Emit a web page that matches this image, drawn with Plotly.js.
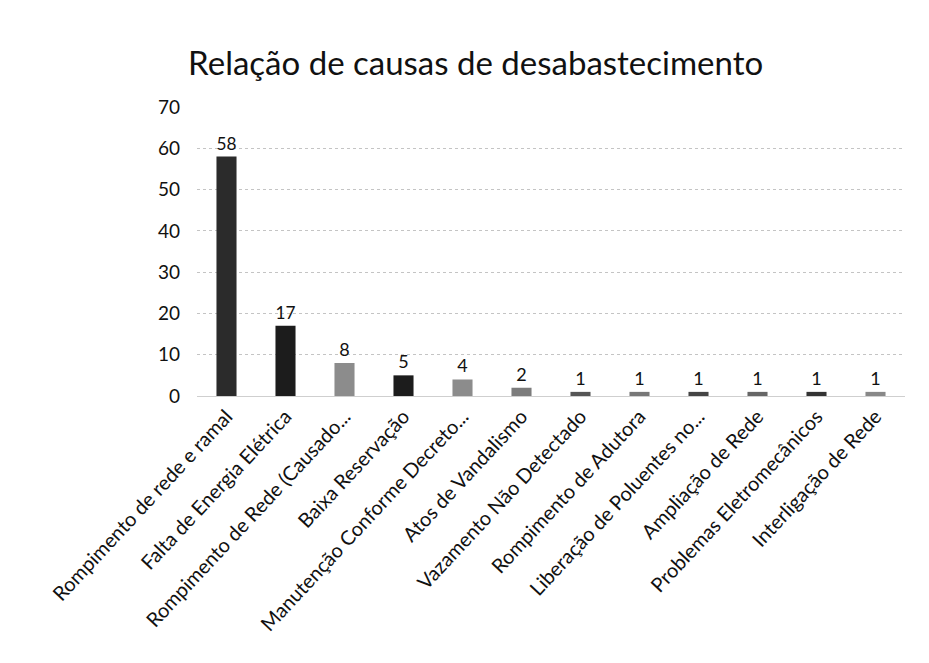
<!DOCTYPE html>
<html>
<head>
<meta charset="utf-8">
<script src="https://cdn.plot.ly/plotly-3.0.1.min.js"></script>
<style>html,body{margin:0;padding:0;background:#fff;}#chart{width:929px;height:663px;}</style>
</head>
<body>
<div id="chart"></div>
<script>
const categories = [
  "Rompimento de rede e ramal",
  "Falta de Energia Elétrica",
  "Rompimento de Rede (Causado...",
  "Baixa Reservação",
  "Manutenção Conforme Decreto...",
  "Atos de Vandalismo",
  "Vazamento Não Detectado",
  "Rompimento de Adutora",
  "Liberação de Poluentes no...",
  "Ampliação de Rede",
  "Problemas Eletromecânicos",
  "Interligação de Rede"
];
const values = [58, 17, 8, 5, 4, 2, 1, 1, 1, 1, 1, 1];
const barColors = ["#2b2b2b", "#1c1c1c", "#8c8c8c", "#1c1c1c", "#8c8c8c", "#7c7c7c",
                   "#555555", "#777777", "#444444", "#666666", "#333333", "#888888"];

const trace = {
  type: "bar",
  x: categories,
  y: values,
  text: values.map(String),
  textposition: "outside",
  cliponaxis: false,
  textfont: {family: "Lato, 'Open Sans', sans-serif", size: 18, color: "#111"},
  marker: {color: barColors, line: {width: 0}},
  hoverinfo: "none"
};

const layout = {
  width: 929, height: 663,
  margin: {l: 197, r: 24, t: 107, b: 267},
  paper_bgcolor: "#fff",
  plot_bgcolor: "#fff",
  title: {
    text: "Relação de causas de desabastecimento",
    font: {family: "Lato, 'Open Sans', sans-serif", size: 33, color: "#111"},
    x: 0.512, xanchor: "center",
    y: 0.905, yanchor: "middle"
  },
  bargap: 0.66,
  showlegend: false,
  xaxis: {
    tickangle: -47,
    tickfont: {family: "Lato, 'Open Sans', sans-serif", size: 20, color: "#111"},
    showline: true, linecolor: "#cfcfcf", linewidth: 1,
    ticks: "", automargin: false
  },
  yaxis: {
    range: [0, 70],
    dtick: 10,
    tickfont: {family: "Lato, 'Open Sans', sans-serif", size: 19, color: "#111"},
    ticklabelstandoff: 16,
    showgrid: true, gridcolor: "#c4c4c4", griddash: "dot", gridwidth: 1,
    zeroline: false, showline: false, ticks: "", ticklen: 0,
    automargin: false
  }
};

Plotly.newPlot("chart", [trace], layout, {staticPlot: true, displayModeBar: false});
</script>
</body>
</html>
